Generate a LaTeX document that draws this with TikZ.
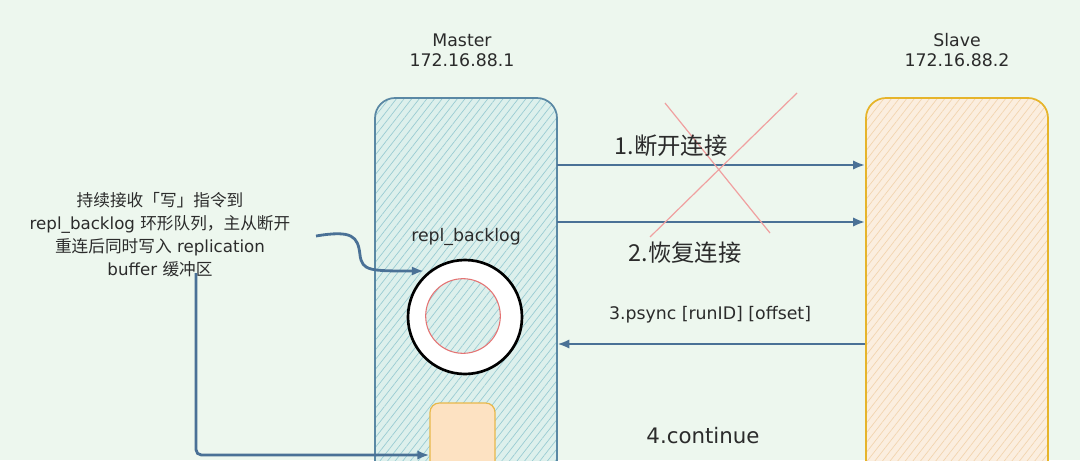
\documentclass[tikz,border=0pt]{standalone}
\usepackage{fontspec}
\setmainfont{DejaVu Sans}
\newfontfamily\cjk{Noto Sans CJK SC}
\usetikzlibrary{patterns.meta,arrows.meta}
\definecolor{bg}{HTML}{EDF7EE}
\definecolor{mfill}{HTML}{DDF0EC}
\definecolor{mhatch}{HTML}{98CBD2}
\definecolor{mline}{HTML}{5A88A4}
\definecolor{sfill}{HTML}{FBEEDF}
\definecolor{shatch}{HTML}{F2D4AE}
\definecolor{sline}{HTML}{E6B42A}
\definecolor{ofill}{HTML}{FDE2C2}
\definecolor{oline}{HTML}{E8B84A}
\definecolor{arrc}{HTML}{4A7196}
\definecolor{redx}{HTML}{F0A0A0}
\definecolor{redc}{HTML}{E57373}
\definecolor{txt}{HTML}{2B2B2B}
\begin{document}
\begin{tikzpicture}[x=0.75pt,y=-0.75pt,
  mbox/.style={draw=mline,line width=1.3pt,rounded corners=15pt,inner sep=0pt,
    minimum width=136.5pt,minimum height=331.5pt,
    preaction={fill=mfill},pattern={Lines[angle=52,distance=4.5pt,line width=0.5pt]},pattern color=mhatch},
  sbox/.style={draw=sline,line width=1.3pt,rounded corners=15pt,inner sep=0pt,
    minimum width=136.5pt,minimum height=331.5pt,
    preaction={fill=sfill},pattern={Lines[angle=52,distance=4.5pt,line width=0.5pt]},pattern color=shatch},
  obox/.style={draw=oline,line width=0.9pt,rounded corners=7pt,fill=ofill,inner sep=0pt,
    minimum width=48.75pt,minimum height=87.75pt},
  ring/.style={circle,draw=black,line width=2pt,fill=white,inner sep=0pt,minimum size=85.5pt},
  core/.style={circle,draw=redc,line width=0.8pt,inner sep=0pt,minimum size=56pt,
    preaction={fill=mfill},pattern={Lines[angle=52,distance=4.5pt,line width=0.5pt]},pattern color=mhatch},
  arr/.style={draw=arrc,line width=2.1pt,-{Latex[length=9pt,width=7pt]}},
  crossline/.style={draw=redx,line width=0.9pt},
  lbl/.style={text=txt,inner sep=1pt,align=center},
  big/.style={lbl,font=\fontsize{17.5pt}{20pt}\selectfont},
  mid/.style={lbl,font=\fontsize{13pt}{15pt}\selectfont},
  head/.style={lbl,font=\fontsize{13pt}{15pt}\selectfont}
]
\useasboundingbox (0,0) rectangle (1080,460);
\fill[bg] (0,0) rectangle (1080,460);
\clip (0,0) rectangle (1080,460);

% boxes
\node[mbox] (master) at (466,319) {};
\node[sbox] (slave) at (957,319) {};
\node[obox] (ob) at (462.5,461.5) {};

% ring buffer
\node[ring] (bk) at (465,317) {};
\node[core] (bkcore) at (463,316) {};

% row coordinates
\coordinate (y1) at (0,165);
\coordinate (y2) at (0,222);
\coordinate (y3) at (0,344);
\coordinate (y4) at (0,455);

% arrows between master and slave
\draw[arr] (master.east |- y1) -- (slave.west |- y1);
\draw[arr] (master.east |- y2) -- (slave.west |- y2);
\draw[arr] (slave.west |- y3) -- (master.east |- y3);

% red cross
\draw[crossline] (665,103) -- (770,233);
\draw[crossline] (797,93) -- (650,237);

% labels
\node[head] (mlabel) at (462,50) {Master\\172.16.88.1};
\node[head] (slabel) at (957,50) {Slave\\172.16.88.2};
\node[big] (l1) at (671,146) {\cjk 1.断开连接};
\node[big] (l2) at (685,253) {\cjk 2.恢复连接};
\node[mid] (l3) at (710,315) {3.psync [runID] [offset]};
\node[lbl,font=\fontsize{16pt}{18pt}\selectfont] (l4) at (703,436) {4.continue};
\node[mid] (bl) at (466,237) {repl\_backlog};
\node[lbl,font=\fontsize{12.5pt}{17.25pt}\selectfont] (note) at (160,235)
  {{\cjk 持续接收「写」指令到}\\repl\_backlog {\cjk 环形队列，主从断开}\\{\cjk 重连后同时写入} replication\\buffer {\cjk 缓冲区}};

% note arrows
\coordinate (n1) at (316,236);
\coordinate (n2) at (196,273);
\draw[arr] (n1) .. controls (352,230) and (358,236) .. (360,255)
  .. controls (362,271) and (370,271) .. (bk.135 |- 0,271);
\draw[arr,rounded corners=4pt] (n2) -- (n2 |- y4) -- (ob.west |- y4);
\end{tikzpicture}
\end{document}
